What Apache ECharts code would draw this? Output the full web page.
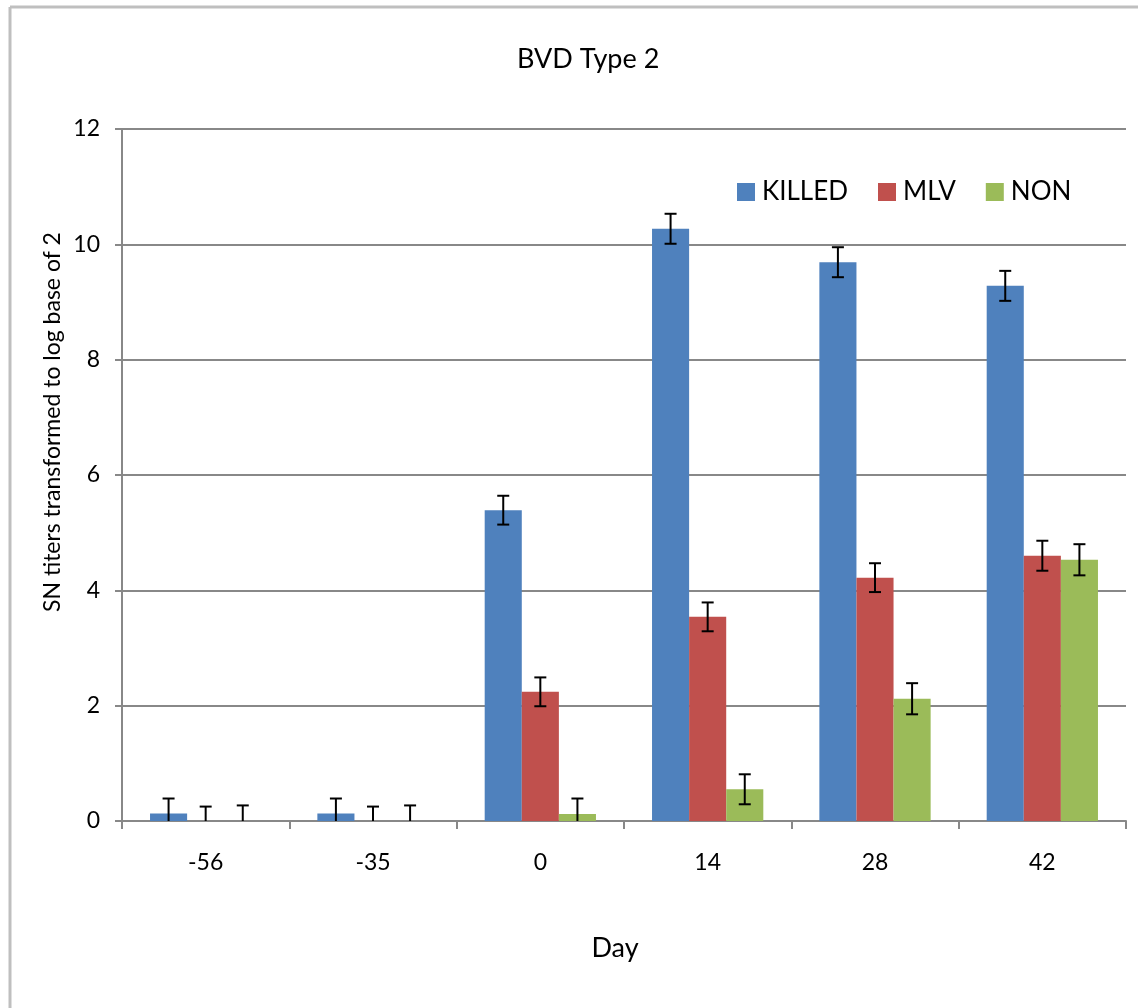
<!DOCTYPE html>
<html>
<head>
<meta charset="utf-8">
<script src="https://cdn.jsdelivr.net/npm/echarts@6/dist/echarts.min.js"></script>
<style>
  html, body { margin: 0; padding: 0; background: #fff; }
  #chart { width: 1138px; height: 1008px; }
</style>
</head>
<body>
<div id="chart"></div>
<script>
// 数据
const days = ['-56', '-35', '0', '14', '28', '42']
const killed = [0.13, 0.13, 5.39, 10.27, 9.69, 9.28]
const mlv = [0, 0, 2.24, 3.54, 4.22, 4.60]
const non = [0, 0, 0.12, 0.55, 2.12, 4.53]
const killedErr = [0.26, 0.26, 0.25, 0.26, 0.26, 0.26]
const mlvErr = [0.25, 0.25, 0.25, 0.25, 0.25, 0.26]
const nonErr = [0.27, 0.27, 0.27, 0.26, 0.27, 0.27]
const yTicks = [0, 2, 4, 6, 8, 10, 12]

const FONT = 'Lato'
const GAP = 0.335 // 类目间距

function errData (vals, errs) {
  return vals.map((v, i) => [i, v, errs[i]])
}

// 误差线
function errorBar (pos) {
  return function (params, api) {
    const band = api.size([1, 0])[0]
    const barW = band * (1 - GAP) / 3
    const dx = (pos - 1) * barW
    const i = api.value(0)
    const v = api.value(1)
    const e = api.value(2)
    const hi = api.coord([i, v + e])
    const loVal = Math.max(0, v - e)
    const lo = api.coord([i, loVal])
    const x = hi[0] + dx
    const cap = 6
    const style = { stroke: '#000', lineWidth: 2 }
    const children = [
      { type: 'line', shape: { x1: x, y1: hi[1], x2: x, y2: lo[1] }, style },
      { type: 'line', shape: { x1: x - cap, y1: hi[1], x2: x + cap, y2: hi[1] }, style }
    ]
    if (v - e > 0) {
      children.push({ type: 'line', shape: { x1: x - cap, y1: lo[1], x2: x + cap, y2: lo[1] }, style })
    }
    return { type: 'group', children }
  }
}

const chart = echarts.init(document.getElementById('chart'))
const option = {
  animation: false,
  backgroundColor: '#fff',
  textStyle: { fontFamily: FONT },
  title: {
    text: 'BVD Type 2',
    left: 512,
    top: 41,
    textStyle: { fontFamily: FONT, fontSize: 27, fontWeight: 'normal', color: '#000' }
  },
  legend: {
    data: ['KILLED', 'MLV', 'NON'],
    left: 732,
    top: 174,
    icon: 'rect',
    itemWidth: 18,
    itemHeight: 18,
    itemGap: 30,
    textStyle: { fontFamily: FONT, fontSize: 26, color: '#000', padding: [0, 0, 0, 2] }
  },
  grid: {
    left: 122,
    right: 12,
    top: 129,
    bottom: 187
  },
  xAxis: {
    type: 'category',
    data: days,
    axisLine: { lineStyle: { color: '#888', width: 2 } },
    axisTick: { show: true, length: 8, lineStyle: { color: '#888', width: 2 } },
    axisLabel: { fontFamily: FONT, fontSize: 23, color: '#000', margin: 30 }
  },
  yAxis: {
    type: 'value',
    min: yTicks[0],
    max: yTicks[yTicks.length - 1],
    interval: 2,
    axisLine: { show: true, lineStyle: { color: '#888', width: 2 } },
    axisTick: { show: true, length: 7, lineStyle: { color: '#888', width: 2 } },
    axisLabel: { fontFamily: FONT, fontSize: 23, color: '#000', margin: 22 },
    splitLine: { lineStyle: { color: '#888', width: 2 } }
  },
  graphic: [
    // 外框
    { type: 'line', shape: { x1: 10, y1: 7, x2: 10, y2: 1008 }, style: { stroke: '#bfbfbf', lineWidth: 3 } },
    { type: 'line', shape: { x1: 10, y1: 7, x2: 1138, y2: 7 }, style: { stroke: '#bfbfbf', lineWidth: 3 } },
    {
      type: 'text',
      x: 53,
      y: 422,
      rotation: Math.PI / 2,
      style: {
        text: 'SN titers transformed to log base of 2',
        fontFamily: FONT,
        fontSize: 23,
        fill: '#000',
        align: 'center',
        verticalAlign: 'middle'
      }
    },
    {
      type: 'text',
      x: 615,
      y: 948,
      style: {
        text: 'Day',
        fontFamily: FONT,
        fontSize: 27,
        fill: '#000',
        align: 'center',
        verticalAlign: 'middle'
      }
    }
  ],
  series: [
    { name: 'KILLED', type: 'bar', data: killed, barGap: 0, barCategoryGap: '33.5%', itemStyle: { color: '#4F81BD' } },
    { name: 'MLV', type: 'bar', data: mlv, barGap: 0, barCategoryGap: '33.5%', itemStyle: { color: '#C0504D' } },
    { name: 'NON', type: 'bar', data: non, barGap: 0, barCategoryGap: '33.5%', itemStyle: { color: '#9BBB59' } },
    { type: 'custom', renderItem: errorBar(0), data: errData(killed, killedErr), z: 10 },
    { type: 'custom', renderItem: errorBar(1), data: errData(mlv, mlvErr), z: 10 },
    { type: 'custom', renderItem: errorBar(2), data: errData(non, nonErr), z: 10 }
  ]
}
chart.setOption(option)
window.addEventListener('resize', () => chart.resize())
</script>
</body>
</html>
